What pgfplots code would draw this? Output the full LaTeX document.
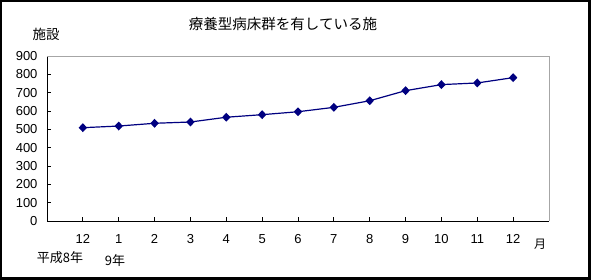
\documentclass[border=0pt]{standalone}
\usepackage{pgfplots}
\pgfplotsset{compat=1.18}
\usepackage{fontspec}
\setmainfont{Liberation Sans}
\newfontfamily\jp{Noto Sans CJK JP}
\definecolor{navyline}{RGB}{0,0,128}
\begin{document}
\begin{tikzpicture}
\fill[black] (0pt,0pt) rectangle (591pt,280pt);
\fill[white] (2pt,3pt) rectangle (588pt,278pt);
\begin{axis}[
  at={(47pt,59pt)}, anchor=south west,
  scale only axis, width=502pt, height=165pt,
  xmin=0, xmax=14, ymin=0, ymax=900,
  axis x line*=bottom, axis y line*=left,
  axis line style={black, line width=0.9pt, -},
  xtick={1,...,13},
  xticklabels={12,1,2,3,4,5,6,7,8,9,10,11,12},
  ytick={0,100,...,900},
  tick align=inside,
  major tick length=4pt,
  tick style={black, line width=0.8pt},
  /pgf/number format/assume math mode=true,
  ticklabel style={font=\fontsize{13}{15}\selectfont},
  xticklabel style={yshift=-10pt},
  yticklabel style={xshift=-6pt},
  clip=false,
]
\draw[gray!70, line width=0.8pt] (rel axis cs:0,1) -- (rel axis cs:1,1) -- (rel axis cs:1,0);
\addplot[navyline, line width=1.2pt, mark=diamond*, mark size=3.6pt, mark options={fill=navyline, draw=navyline, xscale=1.25}]
coordinates {
(1,509) (2,518) (3,533) (4,540) (5,566) (6,580) (7,596) (8,620) (9,656) (10,711) (11,744) (12,753) (13,782)
};
\end{axis}
\node[font=\jp\fontsize{14.5}{16}\selectfont] at (283pt,256pt) {療養型病床群を有している施};
\node[font=\jp\fontsize{13.5}{15}\selectfont] at (46pt,246pt) {施設};
\node[font=\jp\fontsize{12}{14}\selectfont] at (540pt,36pt) {月};
\node[font=\jp\fontsize{13}{14}\selectfont] at (60pt,22pt) {平成8年};
\node[font=\jp\fontsize{13}{14}\selectfont] at (115pt,19pt) {9年};
\useasboundingbox (0pt,0pt) rectangle (591pt,280pt);
\end{tikzpicture}
\end{document}
